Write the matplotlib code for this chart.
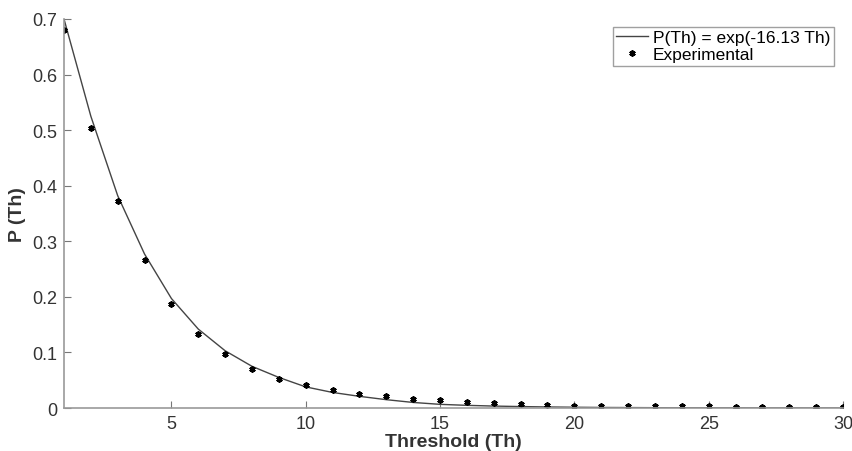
import matplotlib
matplotlib.use("Agg")
from matplotlib import pyplot as plt

# valori
th = list(range(1, 31))
p_fit = [0.700, 0.525, 0.382, 0.277, 0.197, 0.142, 0.103, 0.075, 0.055, 0.038,
         0.028, 0.021, 0.015, 0.010, 0.0066, 0.0048, 0.0035, 0.0026, 0.0019, 0.0014,
         0.0010, 0.0008, 0.0006, 0.0005, 0.0004, 0.0003, 0.0002, 0.0002, 0.0001, 0.0001]
p_exp = [0.680, 0.504, 0.373, 0.267, 0.187, 0.133, 0.097, 0.071, 0.052, 0.041,
         0.032, 0.025, 0.021, 0.017, 0.014, 0.011, 0.0085, 0.0072, 0.0054, 0.0045,
         0.0045, 0.0036, 0.0036, 0.0030, 0.0030, 0.0025, 0.0022, 0.0022, 0.0022, 0.0022]
xticks = [5, 10, 15, 20, 25, 30]
yticks = [0, 0.1, 0.2, 0.3, 0.4, 0.5, 0.6, 0.7]
ytick_labels = ['0', '0.1', '0.2', '0.3', '0.4', '0.5', '0.6', '0.7']

plt.rcParams['font.family'] = ['Liberation Sans', 'DejaVu Sans']

fig = plt.figure(figsize=(8.52, 4.52), dpi=100)
ax = fig.add_axes([0.0751, 0.0951, 0.9143, 0.8607])

ax.plot(th, p_fit, color='#444444', lw=1.0, label='P(Th) = exp(-16.13 Th)')
# asterischi piccoli come nel grafico originale
ax.plot(th, p_exp, ls='none', marker=(6, 2, 0), ms=4.5, mew=1.3, color='black',
        label='Experimental')

ax.set_xlim(1, 30)
ax.set_ylim(0, 0.7)
ax.set_xticks(xticks)
ax.set_yticks(yticks)
ax.set_yticklabels(ytick_labels)

for s in ['top', 'right']:
    ax.spines[s].set_visible(False)
for s in ['left', 'bottom']:
    ax.spines[s].set_color('#999999')
    ax.spines[s].set_linewidth(1.2)
ax.tick_params(direction='in', length=5, color='#777777', labelsize=13,
               labelcolor='#333333', pad=5)

ax.set_xlabel('Threshold (Th)', fontsize=14, fontweight='bold', color='#333333', labelpad=1)
ax.set_ylabel('P (Th)', fontsize=14, fontweight='bold', color='#333333', labelpad=4)

leg = ax.legend(loc='upper right', bbox_to_anchor=(0.988, 0.98), fontsize=12.5,
                frameon=True, fancybox=False, handlelength=1.8, handletextpad=0.3,
                borderpad=0.2, labelspacing=0.1, borderaxespad=0)
leg.get_frame().set_edgecolor('#888888')
leg.get_frame().set_linewidth(1.0)

fig.savefig('out.png', dpi=100)
